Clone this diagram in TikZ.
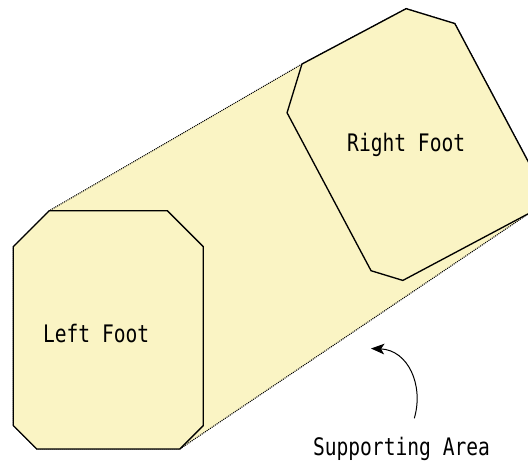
\documentclass[tikz,border=0pt]{standalone}
\usepackage{fontspec}
\usepackage{graphicx}
\setmonofont{DejaVu Sans Mono}
\usetikzlibrary{arrows.meta}
\definecolor{footfill}{RGB}{250,244,196}
\tikzset{every picture/.style={line width=0.75pt}}

\begin{document}
\begin{tikzpicture}[
            x=0.75pt,
            y=0.75pt,
            yscale=-1,
            xscale=1,
            every node/.style={text=black},
            line width=0.75pt,
            footline/.style={draw=black, line width=1pt, fill=footfill, line join=miter},
            arealine/.style={draw=black, fill=footfill, line width=0.8pt, dash pattern={on 0.75pt off 0.75pt}},
            footlabel/.style={anchor=base, inner sep=0.75pt, font=\ttfamily\fontsize{14.7}{16}\selectfont}
        ]
            \clip (0,0) rectangle (528,462);
            % supporting area
            \draw [arealine] (13.3,246.7) -- (49.3,210.7) -- (301.95,64.06) -- (406.13,8.66) -- (454.82,23.54) -- (538.81,181.49) -- (529.09,213.27) -- (179.8,449) -- (36.8,449) -- (13.3,425.5) -- cycle;
            % left foot
            \draw [footline] (49.3,210.7) -- (167.3,210.7) -- (203.3,246.7) -- (203.3,425.5) -- (179.8,449) -- (36.8,449) -- (13.3,425.5) -- (13.3,246.7) -- cycle;
            % right foot
            \draw [footline, shift={(410,141.6)}, rotate=-28] (-59,-119.2) -- (59,-119.2) -- (95,-83.2) -- (95,95.7) -- (71.5,119.2) -- (-71.5,119.2) -- (-95,95.7) -- (-95,-83.2) -- cycle;

            \draw (96.2,342.7) node [footlabel] (leftfoot) {\scalebox{1}[1.23]{Left Foot}};
            \draw (406.2,151.7) node [footlabel] (rightfoot) {\scalebox{1}[1.23]{Right Foot}};
            \draw (401.5,455) node [footlabel] (area) {\scalebox{1}[1.23]{Supporting Area}};

            \coordinate (arrowstart) at (414.3,418.3);
            \coordinate (arrowtip) at (371,348.5);
            \draw [-{Stealth[length=10pt, width=8pt, inset=2.5pt]}] (arrowstart) .. controls (424,385) and (408,350) .. (arrowtip);
        \end{tikzpicture}
\end{document}
